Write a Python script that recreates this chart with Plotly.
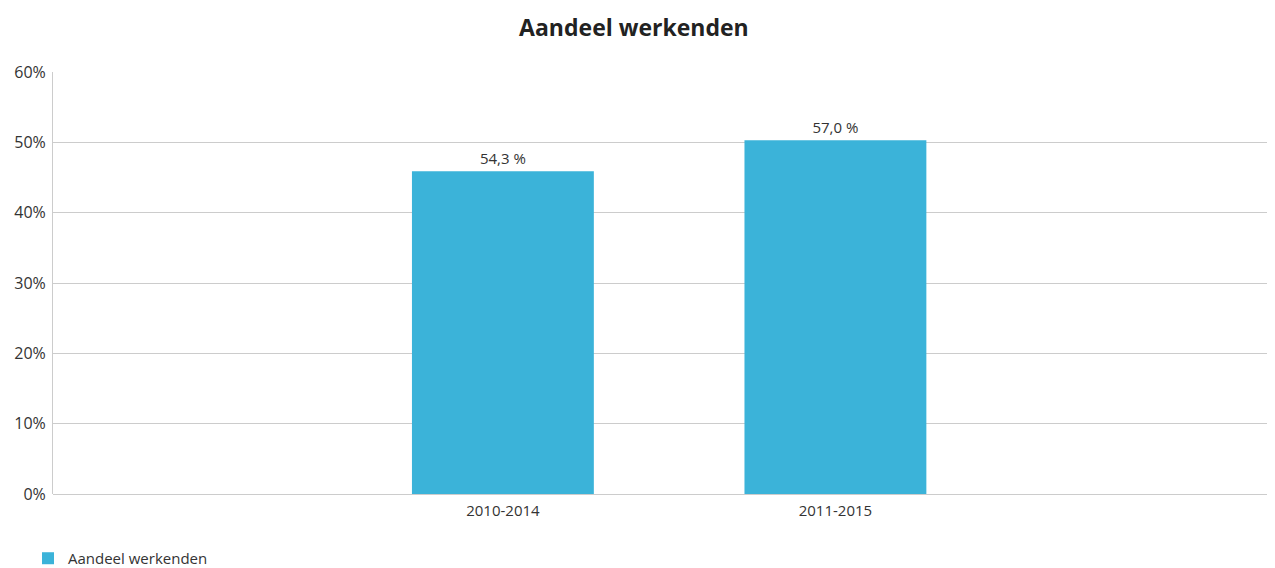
import plotly.graph_objects as go

categories = ["2010-2014", "2011-2015"]
values = [45.9, 50.3]
value_labels = ["54,3 %", "57,0 %"]
series_name = "Aandeel werkenden"
y_ticks = [0, 10, 20, 30, 40, 50, 60]
y_tick_labels = ["0%", "10%", "20%", "30%", "40%", "50%", "60%"]

FONT = "Open Sans"
W, H = 1267, 560
fig = go.Figure()
fig.add_trace(go.Bar(
    x=categories, y=values, name=series_name,
    marker=dict(color="#3bb3d9", line=dict(width=0)),
    width=0.547,
    text=value_labels, textposition="outside", cliponaxis=False,
    textfont=dict(family=FONT, size=15, color="#333333"),
    showlegend=True,
))
fig.update_layout(
    width=W, height=H,
    margin=dict(l=45, r=0, t=64, b=74, autoexpand=False),
    paper_bgcolor="white", plot_bgcolor="white",
    title=dict(text="<b>Aandeel werkenden</b>", x=0.494, xanchor="center",
               y=1 - 20 / H, yanchor="middle", automargin=False,
               font=dict(family=FONT, size=23, color="#222222")),
    font=dict(family=FONT, size=15, color="#333333"),
    xaxis=dict(range=[-1.353, 2.322], showgrid=False, showline=False, ticks="",
               automargin=False, ticklabelstandoff=6,
               tickfont=dict(size=15, color="#333333")),
    yaxis=dict(range=[0, 60], tickvals=y_ticks, ticktext=y_tick_labels,
               showgrid=True, gridcolor="#cccccc", gridwidth=1,
               showline=True, linecolor="#cccccc", linewidth=1,
               zeroline=True, zerolinecolor="#cccccc", zerolinewidth=1,
               automargin=False, ticks="", ticklabelstandoff=3,
               tickfont=dict(size=16, color="#333333")),
    legend=dict(orientation="h", xref="container", x=20 / W, xanchor="left",
                yref="container", y=0.017, yanchor="middle",
                font=dict(size=15, color="#333333"), itemwidth=30,
                tracegroupgap=0),
    bargap=0.45,
)
fig.write_html("out.html")
